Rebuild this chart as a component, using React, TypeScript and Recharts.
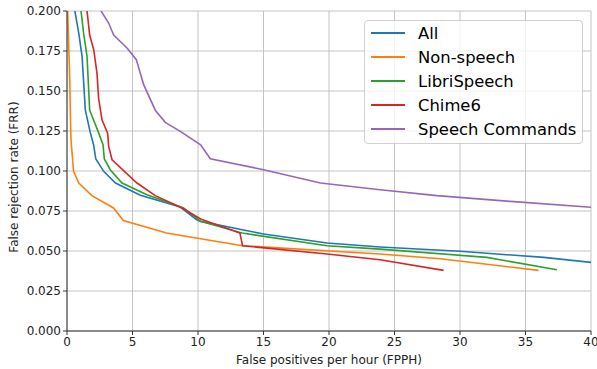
import React from 'react';
import { LineChart, Line, XAxis, YAxis, CartesianGrid, Label } from 'recharts';

const allFpph = [0.6, 0.9, 1.15, 1.4, 1.78, 2.03, 2.2, 2.8, 3.7, 5.6, 8.65, 9.9, 10.2, 15.0, 19.85, 23.9, 30.0, 36.4, 40];
const allFrr = [0.2, 0.186, 0.1716, 0.138, 0.124, 0.1164, 0.1075, 0.0998, 0.0925, 0.0848, 0.0775, 0.0695, 0.0685, 0.0606, 0.055, 0.0525, 0.0498, 0.046, 0.0429];

const nonSpeechFpph = [0.05, 0.2, 0.3, 0.45, 0.5, 0.9, 1.9, 3.55, 4.3, 7.6, 10.2, 13.4, 23.9, 28.5, 36.0];
const nonSpeechFrr = [0.2, 0.16, 0.12, 0.105, 0.0998, 0.0925, 0.0846, 0.0769, 0.0691, 0.0613, 0.0577, 0.0533, 0.0481, 0.0452, 0.0379];

const libriFpph = [1.07, 1.27, 1.53, 1.73, 2.41, 2.75, 2.85, 3.3, 4.2, 6.1, 8.9, 10.05, 10.2, 13.36, 19.85, 23.9, 32.05, 37.4];
const libriFrr = [0.2, 0.186, 0.1716, 0.138, 0.124, 0.1164, 0.1075, 0.1008, 0.0925, 0.0852, 0.0769, 0.0695, 0.0685, 0.0612, 0.0533, 0.0512, 0.046, 0.0383];

const chimeFpph = [1.53, 1.73, 2.04, 2.29, 2.41, 2.67, 3.1, 3.18, 3.44, 5.34, 6.74, 8.78, 10.2, 13.2, 13.4, 19.85, 23.9, 28.75];
const chimeFrr = [0.2, 0.185, 0.1758, 0.161, 0.1456, 0.132, 0.1237, 0.1154, 0.107, 0.0925, 0.0846, 0.0769, 0.07, 0.0612, 0.0533, 0.0481, 0.0445, 0.0379];

const commandsFpph = [2.6, 3.18, 3.56, 4.58, 5.29, 5.85, 6.74, 7.5, 8.65, 10.2, 10.94, 15.0, 19.35, 23.9, 28.24, 33.84, 40];
const commandsFrr = [0.2, 0.1925, 0.185, 0.1769, 0.1696, 0.154, 0.138, 0.1304, 0.1248, 0.1164, 0.1077, 0.1008, 0.0925, 0.0883, 0.0846, 0.081, 0.0773];

const xTicks = [0, 5, 10, 15, 20, 25, 30, 35, 40];
const yTicks = [0, 0.025, 0.05, 0.075, 0.1, 0.125, 0.15, 0.175, 0.2];

const zip = (xs: number[], ys: number[]) => xs.map((x, i) => ({ x, y: ys[i] }));

const series = [
  { name: 'All', color: '#1f77b4', data: zip(allFpph, allFrr) },
  { name: 'Non-speech', color: '#ff7f0e', data: zip(nonSpeechFpph, nonSpeechFrr) },
  { name: 'LibriSpeech', color: '#2ca02c', data: zip(libriFpph, libriFrr) },
  { name: 'Chime6', color: '#d62728', data: zip(chimeFpph, chimeFrr) },
  { name: 'Speech Commands', color: '#9467bd', data: zip(commandsFpph, commandsFrr) },
];

const font = 'DejaVu Sans, sans-serif';
const spine = '#333';

function LegendBox() {
  return (
    <div
      style={{
        position: 'absolute',
        left: 364,
        top: 20,
        width: 219,
        boxSizing: 'border-box',
        border: '1px solid #d0d0d0',
        borderRadius: 4,
        background: 'rgba(255,255,255,0.8)',
        padding: '0 0 2px 6px',
        fontFamily: font,
        fontSize: 16.4,
        color: '#000',
        whiteSpace: 'nowrap',
      }}
    >
      {series.map((s) => (
        <div key={s.name} style={{ display: 'flex', alignItems: 'center', height: 24 }}>
          <span style={{ display: 'inline-block', width: 34, height: 2, background: s.color, marginRight: 13 }} />
          <span>{s.name}</span>
        </div>
      ))}
    </div>
  );
}

const YTitle = () => (
  <text
    x={14}
    y={177}
    transform="rotate(-90, 14, 177)"
    textAnchor="middle"
    dominantBaseline="central"
    fill="#222"
    fontSize={12}
    fontFamily={font}
  >
    False rejection rate (FRR)
  </text>
);

export default function App() {
  return (
    <div style={{ position: 'absolute', left: 0, top: 0, width: 597, height: 369, background: '#fff' }}>
      <LineChart width={597} height={369} margin={{ top: 11, right: 6, left: 0, bottom: 0 }}>
        <CartesianGrid xAxisId="b" yAxisId="l" stroke="#c4c4c4" strokeWidth={1} />
        <XAxis
          xAxisId="b"
          type="number"
          dataKey="x"
          domain={[0, 40]}
          ticks={xTicks}
          allowDataOverflow
          height={38}
          tickSize={4}
          stroke={spine}
          tick={{ fill: '#222', fontSize: 12, fontFamily: font }}
          tickLine={{ stroke: spine }}
        >
          <Label
            value="False positives per hour (FPPH)"
            position="insideBottom"
            offset={5}
            style={{ fill: '#222', fontSize: 12, fontFamily: font }}
          />
        </XAxis>
        <XAxis xAxisId="t" orientation="top" type="number" domain={[0, 40]} height={0} tick={false} tickLine={false} stroke={spine} />
        <YAxis
          yAxisId="l"
          type="number"
          domain={[0, 0.2]}
          ticks={yTicks}
          allowDataOverflow
          width={67}
          tickSize={4}
          stroke={spine}
          tickFormatter={(v: number) => v.toFixed(3)}
          tick={{ fill: '#222', fontSize: 12, fontFamily: font }}
          tickLine={{ stroke: spine }}
        >
          <Label content={YTitle} />
        </YAxis>
        <YAxis yAxisId="r" orientation="right" type="number" domain={[0, 0.2]} width={0} tick={false} tickLine={false} stroke={spine} />
        {series.map((s) => (
          <Line
            key={s.name}
            xAxisId="b"
            yAxisId="l"
            data={s.data}
            dataKey="y"
            name={s.name}
            type="linear"
            stroke={s.color}
            strokeWidth={1.6}
            dot={false}
            isAnimationActive={false}
          />
        ))}
      </LineChart>
      <LegendBox />
    </div>
  );
}
